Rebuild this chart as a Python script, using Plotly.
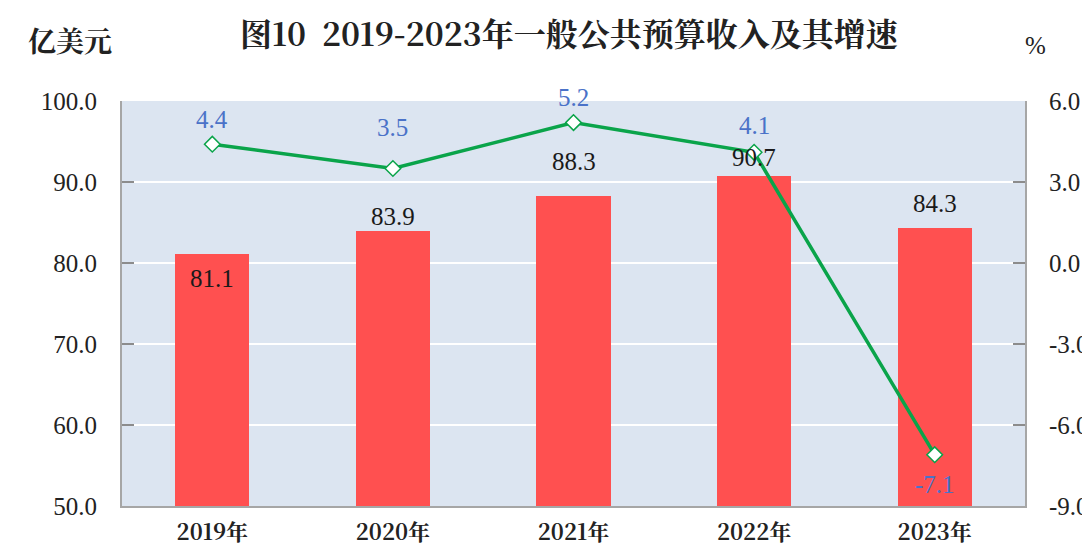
import plotly.graph_objects as go

years = ["2019年", "2020年", "2021年", "2022年", "2023年"]
revenue = [81.1, 83.9, 88.3, 90.7, 84.3]
growth = [4.4, 3.5, 5.2, 4.1, -7.1]

left_ticks = [50, 60, 70, 80, 90, 100]
right_ticks = [-9, -6, -3, 0, 3, 6]

# label offsets in pixels (styling only)
bar_label_shift = [-24, 15, 34, 19, 25]
line_label_shift = [25, 41, 25, 27, -30]

NUM = "Liberation Serif"
CJK = "Noto Serif CJK SC"

# page has an 8px body margin; figure is placed at (8, 8)
OFF = 8
W, H = 1090 - OFF, 549 - OFF
L, R, T, B = 122 - OFF, 1090 - 1025, 101 - OFF, 549 - 506
pw, ph = W - L - R, H - T - B


def fmt(v):
    return f"{v:.1f}".replace("−", "-")


fig = go.Figure()
fig.add_trace(go.Bar(
    x=years, y=revenue, marker=dict(color="#FF5050", line=dict(width=0)),
    width=0.41, yaxis="y", hoverinfo="skip"))
fig.add_trace(go.Scatter(
    x=years, y=growth, yaxis="y2", mode="lines+markers",
    line=dict(color="#0AA44A", width=3.5),
    marker=dict(symbol="diamond", size=12, color="white",
                line=dict(color="#0AA44A", width=1.5)),
    hoverinfo="skip"))

annotations = []
for x, v, s in zip(years, revenue, bar_label_shift):
    annotations.append(dict(x=x, y=v, xref="x", yref="y", text=fmt(v),
                            showarrow=False, yanchor="middle", yshift=s,
                            font=dict(family=NUM, size=25, color="#1a1a1a")))
for x, v, s in zip(years, growth, line_label_shift):
    annotations.append(dict(x=x, y=v, xref="x", yref="y2", text=fmt(v),
                            showarrow=False, yanchor="middle", yshift=s,
                            font=dict(family=NUM, size=25, color="#4A72C8")))

page_texts = [
    dict(text="<b>图10  2019-2023年一般公共预算收入及其增速</b>", px=570, py=32,
         font=dict(family=CJK, size=32, color="#222222")),
    dict(text="<b>亿美元</b>", px=70, py=40,
         font=dict(family=CJK, size=28, color="#222222")),
    dict(text="%", px=1035, py=45,
         font=dict(family=NUM, size=25, color="#222222")),
]
for t in page_texts:
    annotations.append(dict(
        text=t["text"], showarrow=False, font=t["font"],
        x=(t["px"] - OFF - L) / pw, y=1 - (t["py"] - OFF - T) / ph,
        xref="paper", yref="paper", xanchor="center", yanchor="middle"))

fig.update_layout(
    width=W, height=H,
    margin=dict(l=L, r=R, t=T, b=B, pad=0, autoexpand=False),
    paper_bgcolor="white", plot_bgcolor="#DCE5F1",
    showlegend=False, bargap=0,
    annotations=annotations,
    xaxis=dict(type="category", range=[-0.5, 4.5], showline=True,
               linecolor="#A6A6A6", linewidth=2, ticks="", showgrid=False,
               ticklabelstandoff=6,
               tickfont=dict(family=CJK, size=22, color="#222222"),
               ticktext=[f"<b>{y}</b>" for y in years], tickvals=years),
    yaxis=dict(range=[50, 100], tickvals=left_ticks,
               ticktext=[fmt(v) for v in left_ticks],
               showline=True, linecolor="#A6A6A6", linewidth=2,
               ticks="inside", ticklen=12, tickcolor="#8C8C8C", tickwidth=1.5,
               showgrid=True, gridcolor="white", gridwidth=1.5, zeroline=False,
               ticklabelstandoff=18,
               tickfont=dict(family=NUM, size=25, color="#222222")),
    yaxis2=dict(range=[-9, 6], tickvals=right_ticks,
                ticktext=[fmt(v) for v in right_ticks],
                overlaying="y", side="right",
                showline=True, linecolor="#A6A6A6", linewidth=2,
                ticks="inside", ticklen=12, tickcolor="#8C8C8C", tickwidth=1.5,
                showgrid=False, zeroline=False, ticklabelstandoff=17,
                tickfont=dict(family=NUM, size=25, color="#222222")),
)

fig.write_html("out.html")
